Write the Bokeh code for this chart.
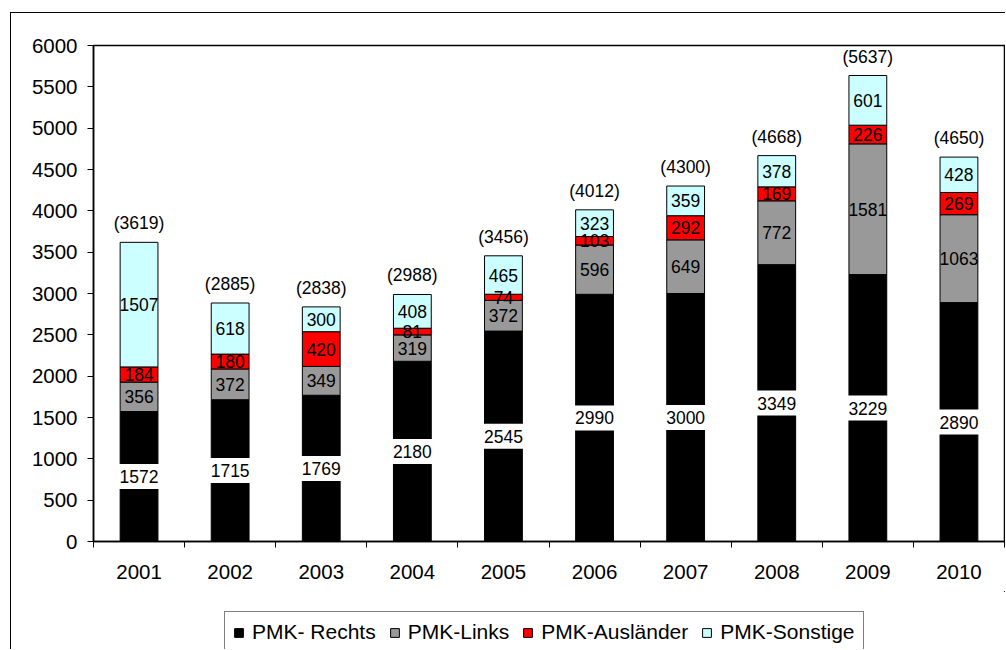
from bokeh.plotting import figure
from bokeh.layouts import column
from bokeh.models import (ColumnDataSource, FixedTicker, LabelSet, Legend, LegendItem,
                          Range1d, CustomJSTickFormatter)
from bokeh.core.properties import value
from bokeh.embed import file_html
from bokeh.resources import INLINE

years = ["2001", "2002", "2003", "2004", "2005", "2006", "2007", "2008", "2009", "2010"]
rechts = [1572, 1715, 1769, 2180, 2545, 2990, 3000, 3349, 3229, 2890]
links = [356, 372, 349, 319, 372, 596, 649, 772, 1581, 1063]
auslaender = [184, 180, 420, 81, 74, 103, 292, 169, 226, 269]
sonstige = [1507, 618, 300, 408, 465, 323, 359, 378, 601, 428]
series_names = ["PMK- Rechts", "PMK-Links", "PMK-Ausländer", "PMK-Sonstige"]
series_colors = ["#000000", "#999999", "#FF0000", "#CCFFFF"]
y_ticks = list(range(0, 6001, 500))

FONT = "Liberation Sans"
series = [rechts, links, auslaender, sonstige]
n = len(years)
xs = [i + 0.5 for i in range(n)]

p = figure(width=994, height=578, output_backend="svg", toolbar_location=None,
           x_range=Range1d(0, n), y_range=Range1d(0, 6000),
           min_border_left=82, min_border_top=32, min_border_bottom=50, min_border_right=1)
p.xgrid.visible = False
p.ygrid.visible = False
p.outline_line_color = "black"
p.outline_line_width = 1.5
p.background_fill_color = "white"
p.border_fill_color = "white"

bottoms = [0] * n
renderers = []
for vals, name, col in zip(series, series_names, series_colors):
    tops = [b + v for b, v in zip(bottoms, vals)]
    mids = [(b + t) / 2 for b, t in zip(bottoms, tops)]
    src = ColumnDataSource(dict(x=xs, bottom=bottoms, top=tops, mid=mids,
                                txt=[str(v) for v in vals]))
    p.vbar(x="x", bottom="bottom", top="top", width=0.415, source=src,
           fill_color=col, line_color="black", line_width=1)
    renderers.append((name, col, src))
    bottoms = tops

# white boxes behind the Rechts labels
rsrc = renderers[0][2]
p.rect(x="x", y="mid", width=0.5, height=25, height_units="screen", source=rsrc,
       fill_color="white", line_color=None)

for name, col, src in renderers:
    p.add_layout(LabelSet(x="x", y="mid", text="txt", source=src, text_align="center",
                          text_baseline="middle", text_font=value(FONT),
                          text_font_size="17.5px", text_color="black"))

totals = bottoms
tsrc = ColumnDataSource(dict(x=xs, y=totals, txt=["(%d)" % t for t in totals]))
p.add_layout(LabelSet(x="x", y="y", text="txt", source=tsrc, text_align="center",
                      text_baseline="middle", y_offset=19, text_font=value(FONT),
                      text_font_size="17.5px", text_color="black"))

# axes
p.yaxis.ticker = FixedTicker(ticks=y_ticks)
p.yaxis.minor_tick_line_color = None
p.yaxis.major_tick_out = 6
p.yaxis.major_tick_in = 0
p.yaxis.major_label_standoff = 10
p.xaxis.ticker = FixedTicker(ticks=xs, minor_ticks=list(range(n + 1)))
p.xaxis.formatter = CustomJSTickFormatter(args=dict(labels=years),
                                          code="return labels[Math.floor(tick)]")
p.xaxis.minor_tick_out = 6
p.xaxis.minor_tick_in = 0
p.xaxis.minor_tick_line_color = "black"
p.xaxis.major_label_standoff = 17
for ax in (p.xaxis, p.yaxis):
    ax.axis_line_color = "black"
    ax.axis_line_width = 1.5
    ax.major_label_text_font = FONT
    ax.major_label_text_font_size = "20.5px"
    ax.major_label_text_color = "black"
p.yaxis.major_tick_line_color = "black"
p.xaxis.major_tick_line_color = None

# legend strip below the chart (its renderers share the data but lie outside its view)
p2 = figure(width=994, height=58, output_backend="svg", toolbar_location=None,
            x_axis_type=None, y_axis_type=None,
            x_range=Range1d(-100, -99), y_range=Range1d(-100, -99), min_border=0)
p2.xgrid.visible = False
p2.ygrid.visible = False
p2.outline_line_color = None
p2.background_fill_color = "white"
p2.border_fill_color = "white"
items = []
for name, col, src in renderers:
    dummy = p2.vbar(x="x", bottom="bottom", top="top", width=0.415, source=src,
                    fill_color=col, line_color="black", line_width=1)
    items.append(LegendItem(label=name, renderers=[dummy]))

legend = Legend(items=items, orientation="horizontal", location=(131, -4))
legend.border_line_color = "black"
legend.border_line_width = 1
legend.background_fill_color = "white"
legend.background_fill_alpha = 1
legend.label_text_font = FONT
legend.label_text_font_size = "21px"
legend.label_text_color = "black"
legend.glyph_width = 11
legend.glyph_height = 11
legend.label_standoff = 8
legend.spacing = 13
legend.padding = 8
legend.margin = 0
p2.add_layout(legend, "center")

layout = column(p, p2, spacing=0)
layout.styles = {"margin-left": "10px", "margin-top": "12px",
                 "border-left": "1px solid #000", "border-top": "1px solid #000"}

open("out.html", "w").write(file_html(layout, INLINE))
